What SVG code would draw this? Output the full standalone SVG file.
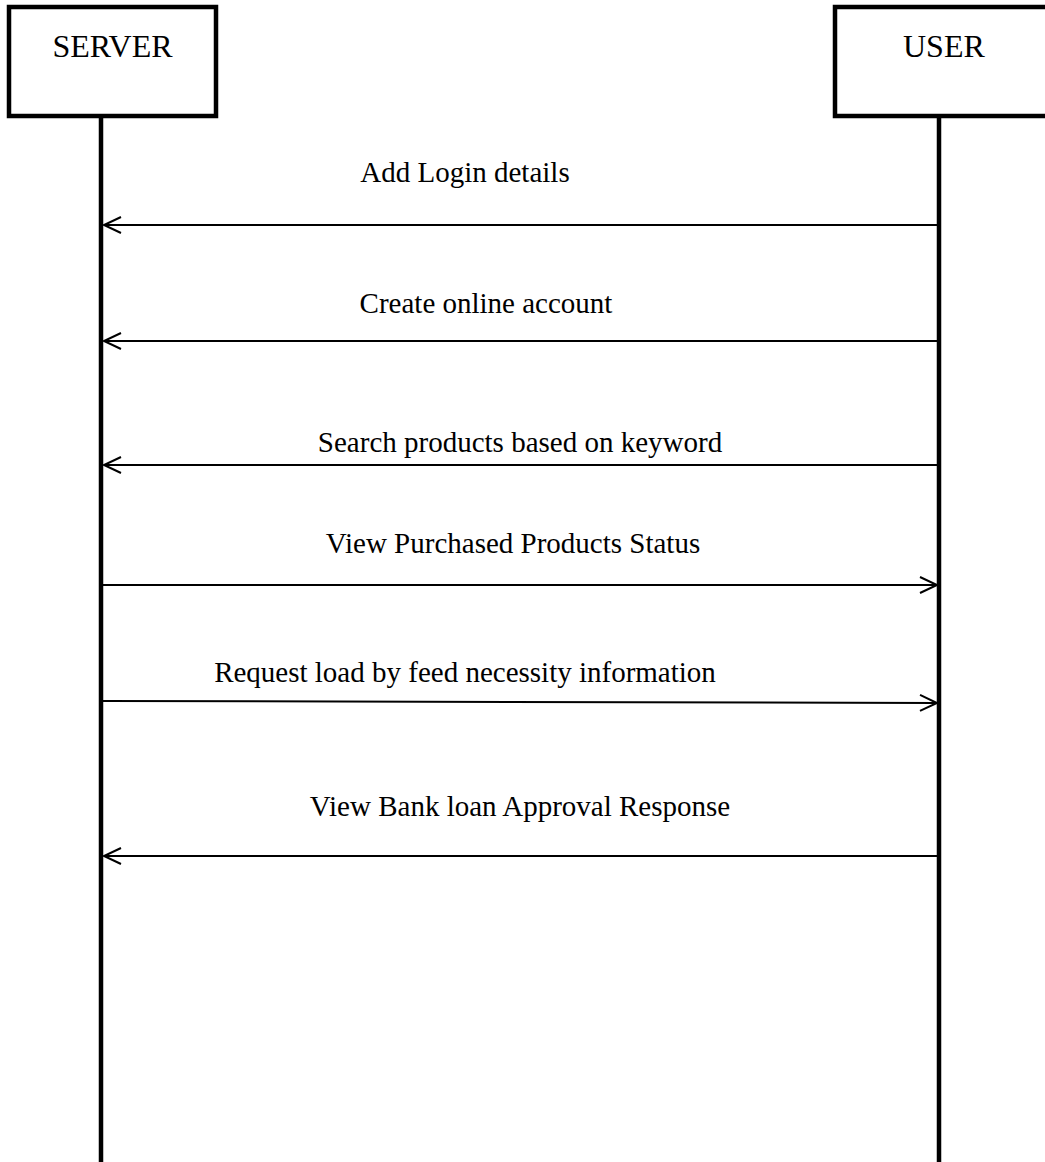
<svg xmlns="http://www.w3.org/2000/svg" width="1045" height="1162" viewBox="0 0 1045 1162">
<style>
.box{fill:#fff;stroke:#000;stroke-width:4.5}
.life{stroke:#000;stroke-width:4.5;fill:none}
.head{font-family:"Liberation Serif","Times New Roman",serif;font-size:32px;fill:#000}
.lbl{font-family:"Liberation Serif","Times New Roman",serif;font-size:29px;fill:#000;text-anchor:middle}
.msg{stroke:#000;stroke-width:2;fill:none;marker-end:url(#arr)}
</style>
<defs>
<marker id="arr" markerUnits="userSpaceOnUse" markerWidth="20" markerHeight="20" refX="18" refY="9" orient="auto" overflow="visible">
<path d="M1,1 L18,9 L1,17" fill="none" stroke="#000" stroke-width="2"/>
</marker>
</defs>
<g id="server">
<rect class="box" x="9" y="7" width="207" height="109"/>
<text class="head" x="112.5" y="57" text-anchor="middle">SERVER</text>
<line class="life" x1="101" y1="116" x2="101" y2="1162"/>
</g>
<g id="user">
<rect class="box" x="835" y="7" width="250" height="109"/>
<text class="head" x="903" y="57">USER</text>
<line class="life" x1="939" y1="116" x2="939" y2="1162"/>
</g>
<g id="connectors">
<line class="msg" x1="937" y1="225" x2="104" y2="225"/>
<line class="msg" x1="937" y1="341" x2="104" y2="341"/>
<line class="msg" x1="937" y1="465" x2="104" y2="465"/>
<line class="msg" x1="103" y1="585" x2="937" y2="585"/>
<line class="msg" x1="103" y1="701" x2="937" y2="703"/>
<line class="msg" x1="937" y1="856" x2="104" y2="856"/>
</g>
<g id="labels">
<text class="lbl" x="465" y="182">Add Login details</text>
<text class="lbl" x="486" y="313">Create online account</text>
<text class="lbl" x="520" y="452">Search products based on keyword</text>
<text class="lbl" x="513" y="553">View Purchased Products Status</text>
<text class="lbl" x="465" y="682">Request load by feed necessity information</text>
<text class="lbl" x="520" y="816">View Bank loan Approval Response</text>
</g>
</svg>
